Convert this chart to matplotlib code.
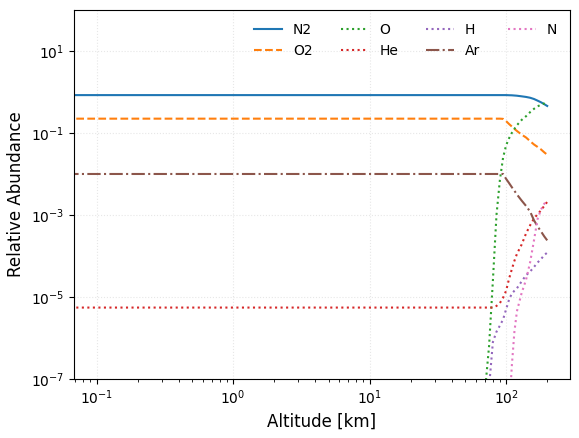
import numpy as np
import matplotlib
matplotlib.use('Agg')
import matplotlib.pyplot as plt

# altitude grid [km] and log10 of relative abundance
alt = np.array([0, 70, 75, 80, 85, 90, 95, 100, 105, 110, 115, 120,
                130, 140, 150, 160, 170, 180, 190, 200], dtype=float)
nan = np.nan
logs = {
    'N2': [-0.075, -0.075, -0.075, -0.075, -0.075, -0.075, -0.075, -0.075, -0.078, -0.08, -0.085, -0.09,
           -0.105, -0.12, -0.14, -0.17, -0.21, -0.25, -0.295, -0.34],
    'O2': [-0.65, -0.65, -0.65, -0.65, -0.65, -0.65, -0.655, -0.71, -0.78, -0.84, -0.9, -0.95,
           -1.04, -1.11, -1.2, -1.28, -1.34, -1.4, -1.47, -1.53],
    'O': [nan, -7.3, -6.2, -4.6, -3.0, -2.15, -1.6, -1.3, -1.13, -1.0, -0.9, -0.81,
          -0.68, -0.59, -0.49, -0.41, -0.35, -0.31, -0.28, -0.25],
    'He': [-5.26, -5.26, -5.26, -5.26, -5.22, -5.15, -5.02, -4.85, -4.56, -4.33, -4.12, -3.95,
           -3.72, -3.45, -3.25, -3.09, -2.98, -2.89, -2.78, -2.68],
    'H': [nan, nan, -7.2, -6.1, -5.85, -5.7, -5.55, -5.3, -5.07, -4.92, -4.85, -4.79,
          -4.62, -4.47, -4.38, -4.27, -4.16, -4.08, -3.98, -3.92],
    'Ar': [-2.0, -2.0, -2.0, -2.0, -2.0, -2.0, -2.0, -2.12, -2.22, -2.32, -2.41, -2.5,
           -2.65, -2.78, -2.92, -3.13, -3.28, -3.4, -3.52, -3.62],
    'N': [nan, nan, nan, nan, nan, nan, nan, nan, -7.9, -6.7, -5.85, -5.35,
          -4.9, -4.58, -4.15, -3.62, -3.1, -2.87, -2.73, -2.64],
}
styles = {'N2': '-', 'O2': '--', 'O': ':', 'He': ':', 'H': ':', 'Ar': '-.', 'N': ':'}

fig, ax = plt.subplots(figsize=(5.79, 4.38), dpi=100)
fig.subplots_adjust(left=0.128, right=0.984, top=0.977, bottom=0.135)

for name, vals in logs.items():
    ax.plot(alt, 10**np.array(vals), styles[name], label=name)

ax.set_xscale('log')
ax.set_yscale('log')
# data runs 0.1 .. 200 km, with the usual 5% margin
m = (200 / 0.1) ** 0.05
ax.set_xlim(0.1 / m, 200 * m)
ax.set_ylim(1e-7, 1e2)
ax.set_xlabel('Altitude [km]', fontsize=12)
ax.set_ylabel('Relative Abundance', fontsize=12)
ax.grid(True, ls=':', alpha=0.3)
ax.legend(ncol=4, frameon=False, loc='upper right')
fig.savefig('out.png', dpi=100)
